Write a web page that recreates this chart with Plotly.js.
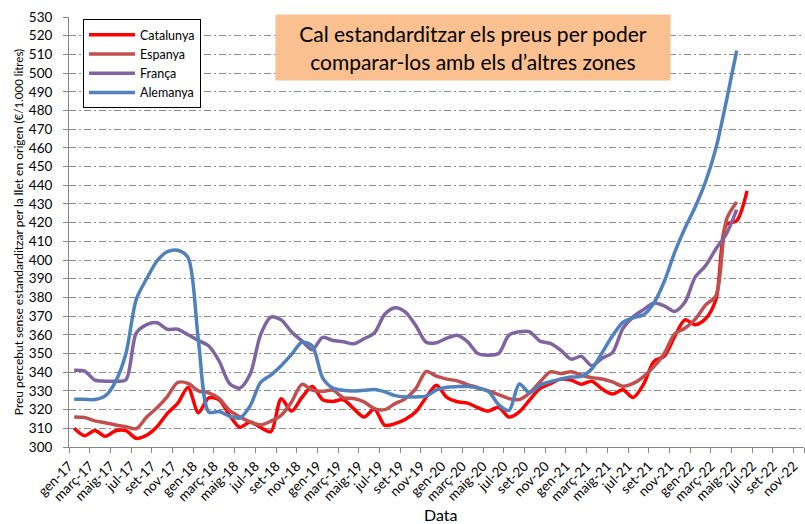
<!DOCTYPE html>
<html><head><meta charset="utf-8">
<script src="https://cdn.plot.ly/plotly-3.0.1.min.js"></script>
<style>html,body{margin:0;padding:0;background:#fff}#chart{width:805px;height:524px}</style>
</head><body><div id="chart"></div>
<script>
// Tick labels (every second month, gen-17 .. nov-22), 71 monthly categories in total
const tickLabels = ['gen-17','març-17','maig-17','jul-17','set-17','nov-17',
  'gen-18','març-18','maig-18','jul-18','set-18','nov-18',
  'gen-19','març-19','maig-19','jul-19','set-19','nov-19',
  'gen-20','març-20','maig-20','jul-20','set-20','nov-20',
  'gen-21','març-21','maig-21','jul-21','set-21','nov-21',
  'gen-22','març-22','maig-22','jul-22','set-22','nov-22'];
const monthCount = 71;

// Monthly prices (€/1.000 litres), starting gen-17
const catalunya = [310, 306, 308.8, 305.7, 308.7, 308.8, 304.6, 306.3, 310.8, 318,
  323.3, 331.8, 318.3, 326.3, 325.3, 317, 310.5, 313.4, 310.5, 308.2,
  325.8, 319.2, 326.5, 332.3, 325.3, 324.4, 325.3, 320.5, 316, 320.3,
  311.6, 312.5, 314.8, 318.8, 326.5, 333, 326.5, 324.2, 323.5, 321,
  319.2, 321.3, 316, 318.8, 325.2, 331.4, 333.9, 336.3, 335.8, 333.6,
  335.2, 331, 328.3, 330.6, 326.5, 333.5, 345.8, 348.5, 359, 368,
  365.4, 368.6, 379, 419, 421, 437];
const espanya = [316.1, 315.8, 314, 313, 311.8, 310.8, 309.8, 316, 321, 327,
  334.5, 334, 330, 329, 326, 319.6, 316.1, 313.4, 311.8, 313.8,
  317, 324.1, 333.5, 330.4, 329.8, 330.4, 326.3, 325.9, 324.1, 320.5,
  320, 323.2, 325.9, 331.2, 340.4, 337.9, 336.3, 335.4, 333.4, 331.8,
  330, 328, 325.9, 325.4, 329, 334.8, 340.2, 339.3, 340.2, 338.4,
  337.1, 336.4, 334.8, 332.5, 334, 337.7, 343, 350, 360.5, 363.5,
  368.4, 376, 381, 421.5, 431];
const franca = [341.1, 340.6, 335.8, 335.2, 335.2, 336, 361, 365.5, 366.5, 363,
  363, 360, 357, 354, 346, 334, 331.5, 339, 360, 369.5,
  368, 361.5, 356.8, 352, 358.6, 357, 356.3, 355.2, 357.9, 361,
  371, 374.5, 372.2, 365, 356, 355.8, 358.2, 359.8, 356.3, 350,
  349.1, 350, 359.8, 361.6, 361.6, 356.6, 355.4, 351.8, 347, 348.5,
  343.5, 347.5, 350.5, 363.4, 369.6, 373.5, 377, 375.5, 372.5, 377.5,
  391, 397, 406, 414, 427];
const alemanya = [325.5, 325.5, 325.4, 327.3, 335, 350, 379, 390, 399.5, 404.5,
  405.2, 401.3, 357, 318.7, 319, 316.5, 315.5, 322, 334.5, 338.5,
  343.5, 349.5, 356, 354, 337, 331.5, 330.3, 330, 330.3, 330.7,
  329.5, 327.5, 326.8, 326.8, 327.2, 330.5, 332, 332.3, 332.3, 331.5,
  329.8, 322.7, 319.5, 333.7, 329, 333.1, 334.9, 336.3, 337.4, 337.8,
  341.7, 350.5, 359.5, 366.7, 369.1, 370.7, 377, 388.5, 404, 417,
  428.5, 442, 460, 485, 512];

const seriesNames = ['Catalunya', 'Espanya', 'França', 'Alemanya'];
const seriesColors = ['#FF0000', '#C0504D', '#8064A2', '#4F81BD'];
const seriesData = [catalunya, espanya, franca, alemanya];

const traces = seriesData.map((vals, k) => ({
  type: 'scatter', mode: 'lines', name: seriesNames[k],
  x: vals.map((_, i) => i), y: vals,
  line: {color: seriesColors[k], width: 3.5, shape: 'spline', smoothing: 0.8},
  hoverinfo: 'x+y'
}));

// ticks on category boundaries, labels shifted to category centres
const tickVals = tickLabels.map((_, i) => 2 * i - 0.5).concat([monthCount - 0.5]);
const tickText = tickLabels.concat(['']);

const layout = {
  width: 805, height: 524,
  margin: {l: 69, r: 1, t: 17, b: 77, autoexpand: false},
  paper_bgcolor: '#fff', plot_bgcolor: '#fff',
  font: {family: 'Lato, "Open Sans", sans-serif', color: '#000'},
  showlegend: true,
  legend: {x: 0.019, y: 0.9953, xanchor: 'left', yanchor: 'top', bgcolor: '#fff',
    bordercolor: '#000', borderwidth: 1, font: {size: 12.5, color: '#000'},
    itemwidth: 46},
  xaxis: {type: 'linear', range: [-0.5, monthCount - 0.5], tickmode: 'array',
    tickvals: tickVals, ticktext: tickText, tickangle: -45, ticks: 'outside', ticklen: 5,
    tickcolor: '#868686', showline: true, linecolor: '#868686', linewidth: 1,
    showgrid: false, zeroline: false, ticklabelshift: 5.17,
    tickfont: {size: 13.5, color: '#000'}},
  yaxis: {range: [300, 530], tick0: 300, dtick: 10, ticks: 'outside', ticklen: 5,
    tickcolor: '#868686', showline: true, linecolor: '#868686', linewidth: 1,
    showgrid: true, gridcolor: '#8c8c8c', gridwidth: 1, griddash: '7px,3px,2px,3px',
    zeroline: false, tickfont: {size: 13.5, color: '#000'}, ticklabelstandoff: 8,
    title: {text: 'Preu percebut sense estandarditzar per la llet en origen <span style="font-size:11.5px">(€/1.000 litres)</span>',
      font: {size: 12, color: '#000'}, standoff: 2}},
  annotations: [
    {xref: 'paper', yref: 'paper', x: 0.5497, y: 0.929, xanchor: 'center', yanchor: 'middle',
      text: 'Cal estandarditzar els preus per poder<br>comparar-los amb els d’altres zones',
      showarrow: false, bgcolor: '#FAC090', width: 394, height: 65, borderpad: 0,
      font: {size: 21, color: '#000'}, align: 'center'},
    {xref: 'paper', yref: 'paper', x: 0.5068, y: -0.158, xanchor: 'center', yanchor: 'middle',
      text: 'Data', showarrow: false, font: {size: 16, color: '#000'}}
  ]
};

Plotly.newPlot('chart', traces, layout, {displayModeBar: false, staticPlot: true});
</script></body></html>
